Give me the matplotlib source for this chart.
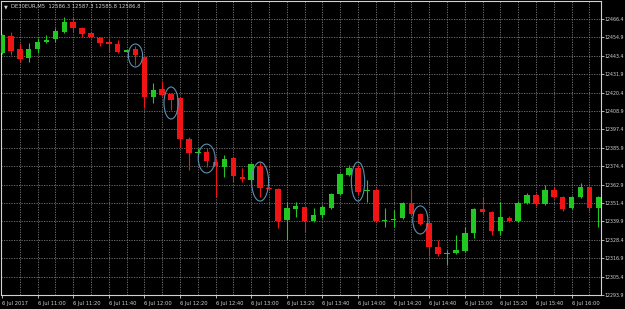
import matplotlib
matplotlib.use("Agg")
import matplotlib.pyplot as plt
from matplotlib.patches import Ellipse
import numpy as np

# DE30EUR M5, 6 Jul 2017, one bar every 5 minutes starting 10:40
opens = [12445.2, 12455.8, 12447.7, 12442.0, 12447.7, 12452.0, 12453.9, 12458.3, 12464.5, 12460.8,
         12457.7, 12454.5, 12452.0, 12450.8, 12445.8, 12447.7, 12442.7, 12417.7, 12422.6, 12419.5,
         12417.0, 12391.4, 12382.6, 12383.3, 12377.0, 12373.9, 12379.5, 12367.7, 12365.8, 12374.5,
         12360.8, 12360.2, 12340.8, 12347.7, 12348.9, 12340.2, 12343.9, 12348.3, 12357.0, 12368.9,
         12373.3, 12358.6, 12359.5, 12340.2, 12340.8, 12342.0, 12351.4, 12344.5, 12338.9, 12323.9,
         12319.5, 12320.2, 12321.4, 12332.7, 12347.7, 12345.8, 12333.9, 12342.0, 12340.2, 12351.4,
         12356.4, 12350.8, 12359.5, 12355.2, 12348.3, 12355.2, 12361.4, 12348.3]
highs = [12457.0, 12458.0, 12451.4, 12451.4, 12454.5, 12456.4, 12460.8, 12467.6, 12467.6, 12461.4,
         12458.5, 12455.0, 12454.5, 12453.3, 12447.3, 12449.5, 12443.3, 12426.4, 12427.7, 12420.0,
         12417.5, 12392.5, 12385.8, 12385.8, 12379.5, 12381.4, 12380.2, 12373.3, 12376.4, 12377.0,
         12361.0, 12360.8, 12352.0, 12352.0, 12349.5, 12348.3, 12350.2, 12357.7, 12370.0, 12375.2,
         12375.2, 12365.8, 12360.8, 12348.3, 12347.0, 12352.0, 12360.8, 12345.0, 12339.5, 12328.3,
         12322.0, 12331.4, 12336.4, 12348.0, 12355.2, 12346.4, 12352.0, 12343.0, 12352.6, 12357.7,
         12357.7, 12362.7, 12361.4, 12355.8, 12355.8, 12363.9, 12362.0, 12356.0]
lows = [12444.5, 12443.9, 12439.5, 12439.5, 12445.2, 12451.4, 12452.0, 12457.7, 12458.3, 12455.2,
        12454.5, 12449.5, 12445.8, 12445.2, 12445.5, 12437.6, 12410.8, 12413.9, 12418.3, 12409.5,
        12386.4, 12372.0, 12380.2, 12373.9, 12355.2, 12367.7, 12364.5, 12364.5, 12365.2, 12355.2,
        12359.8, 12335.8, 12328.3, 12342.7, 12333.3, 12339.5, 12342.0, 12347.7, 12356.4, 12368.3,
        12356.4, 12352.0, 12339.5, 12336.4, 12336.4, 12341.4, 12344.0, 12337.5, 12318.3, 12318.3,
        12312.7, 12319.5, 12320.8, 12329.5, 12344.5, 12331.4, 12331.4, 12339.8, 12339.5, 12350.8,
        12349.5, 12350.2, 12354.5, 12346.4, 12347.7, 12354.5, 12346.4, 12336.4]
closes = [12456.4, 12446.4, 12441.4, 12447.7, 12452.0, 12453.3, 12458.9, 12464.5, 12460.8, 12457.0,
          12455.2, 12451.4, 12450.8, 12445.8, 12447.0, 12443.9, 12417.7, 12422.0, 12418.9, 12415.8,
          12391.4, 12382.6, 12383.3, 12377.7, 12374.5, 12378.9, 12368.3, 12366.4, 12375.8, 12360.8,
          12360.2, 12340.2, 12348.3, 12349.5, 12340.2, 12343.9, 12348.9, 12357.0, 12369.5, 12373.3,
          12358.3, 12359.2, 12340.2, 12340.8, 12341.4, 12351.4, 12344.5, 12338.3, 12323.9, 12319.5,
          12320.2, 12322.0, 12332.7, 12347.7, 12345.8, 12333.9, 12342.7, 12340.2, 12351.4, 12356.4,
          12350.8, 12359.5, 12355.2, 12347.7, 12355.2, 12361.4, 12348.3, 12355.2]

time_ticks = list(range(0, 68, 4))[:17]
time_labels = ["6 Jul 2017", "6 Jul 11:00", "6 Jul 11:20", "6 Jul 11:40", "6 Jul 12:00",
               "6 Jul 12:20", "6 Jul 12:40", "6 Jul 13:00", "6 Jul 13:20", "6 Jul 13:40",
               "6 Jul 14:00", "6 Jul 14:20", "6 Jul 14:40", "6 Jul 15:00", "6 Jul 15:20",
               "6 Jul 15:40", "6 Jul 16:00"]
price_ticks = [12466.4, 12454.9, 12443.4, 12431.9, 12420.4, 12408.9, 12397.4, 12385.9,
               12374.4, 12362.9, 12351.4, 12339.9, 12328.4, 12316.9, 12305.4, 12293.9]

# hand drawn circles: bar index, centre price, height (price), width (bars)
circle_bar = [15, 19, 23, 29, 40, 47]
circle_mid = [12443.6, 12413.9, 12379.2, 12364.8, 12364.8, 12340.8]
circle_h = [14.4, 20.0, 18.0, 24.4, 24.4, 17.5]
circle_w = [1.6, 1.6, 1.9, 1.9, 1.5, 1.7]

header = "DE30EUR,M5  12586.3 12587.3 12585.8 12586.8"

UP = "#22c822"
DOWN = "#f01414"
FG = "#d2d2d2"
GRID = "#7a7a7a"

o = np.array(opens)
h = np.array(highs)
l = np.array(lows)
c = np.array(closes)
x = np.arange(len(o))
up = c >= o
cols = np.where(up, UP, DOWN)

fig = plt.figure(figsize=(6.25, 3.09), dpi=100, facecolor="black")
ax = fig.add_axes([1 / 625, 14 / 309, 600 / 625, 294 / 309])
ax.set_facecolor("black")

# grid
for yv in price_ticks:
    ax.axhline(yv, color=GRID, lw=0.6, ls=(0, (1.5, 1.5)), zorder=0)
for xv in range(2, 68, 2):
    ax.axvline(xv, color=GRID, lw=0.6, ls=(0, (1.5, 1.5)), zorder=0)

# candles
ax.vlines(x, l, h, colors=cols, lw=0.8, zorder=2)
body = np.maximum(np.abs(c - o), 0.7)
ax.bar(x, body, bottom=np.minimum(o, c), width=0.62, color=cols, lw=0, zorder=3)

for i, m, hh, ww in zip(circle_bar, circle_mid, circle_h, circle_w):
    ax.add_patch(Ellipse((i, m), ww, hh, fill=False, ec="#5d8fb0", lw=0.8, zorder=4))

ax.set_xlim(-0.11, 67.3)
ax.set_ylim(12293.9, 12477.65)

ax.set_xticks(time_ticks)
ax.set_xticklabels(time_labels)
for t in ax.get_xticklabels():
    t.set_ha("left")
ax.yaxis.tick_right()
ax.set_yticks(price_ticks)
ax.set_yticklabels([f"{v:.1f}" for v in price_ticks])
ax.tick_params(axis="x", colors=FG, labelsize=3.7, length=2.5, width=0.6, pad=1.5)
ax.tick_params(axis="y", colors=FG, labelsize=3.4, length=1.8, width=0.6, pad=0.4)
for t in ax.get_xticklabels() + ax.get_yticklabels():
    t.set_family("DejaVu Sans")

for s in ax.spines.values():
    s.set_color(FG)
    s.set_linewidth(0.8)

fig.text(4 / 625, 1 - 6.5 / 309, "\u25bc", color=FG, fontsize=3.6, va="center", ha="left")
fig.text(11 / 625, 1 - 6.5 / 309, header, color=FG, fontsize=3.8, va="center", ha="left")

fig.savefig("out.png", dpi=100, facecolor="black")
